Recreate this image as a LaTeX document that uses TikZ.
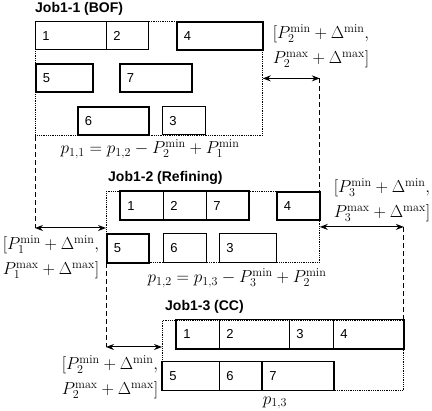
\RequirePackage{fix-cm}
\documentclass[tikz,border=0pt]{standalone}
\usepackage{fontspec}
\setsansfont{Liberation Sans}
\usetikzlibrary{arrows.meta}
\tikzset{
  frm/.style={draw, densely dotted, line width=0.8pt, anchor=north west, inner sep=0pt},
  jb/.style={draw, line width=0.9pt, anchor=north west, inner xsep=7pt, inner ysep=0pt,
             minimum height=28.5pt, align=left, font=\sffamily\fontsize{13}{15}\selectfont},
  thk/.style={line width=1.6pt},
  grp/.style={draw, line width=1.8pt},
  ttl/.style={font=\sffamily\bfseries\fontsize{14}{16}\selectfont, anchor=west, inner sep=0pt},
  mth/.style={font=\fontsize{17.3}{25}\selectfont, align=center, inner sep=0pt},
  arr/.style={{Stealth[length=8pt,width=6pt]}-{Stealth[length=8pt,width=6pt]}, line width=1pt},
  dsh/.style={line width=1pt, dash pattern=on 5pt off 3pt},
}
\newcommand\jbox[6][]{\node[jb,#1, text width={#5pt-14pt}] (#2) at (#3,#4) {#6};}
\begin{document}
\begin{tikzpicture}[x=1pt,y=-1pt]
\useasboundingbox (0,0) rectangle (432,411);
% ---------- Job1-1 ----------
\node[ttl] (tA) at (35,9) {Job1-1 (BOF)};
\node[frm, minimum width=227pt, minimum height=114pt] (fA) at (35,21) {};
\jbox{a1}{35}{21}{71}{1}
\jbox{a2}{106}{21}{42}{2}
\jbox[thk]{a4}{176}{21}{86}{4}
\jbox[thk]{a5}{35}{63}{57}{5}
\jbox[thk]{a7}{119}{63}{72}{7}
\jbox[thk]{a6}{77}{106}{71}{6}
\jbox{a3}{162}{106}{43}{3}
\node[mth] (eA) at (150,149) {$p_{1,1}=p_{1,2}-P_2^{\min}+P_1^{\min}$};
\node[mth] (lA) at (321,46) {$[P_2^{\min}+\Delta^{\min},$\\$P_2^{\max}+\Delta^{\max}]$};
% ---------- Job1-2 ----------
\node[ttl] (tB) at (108,178) {Job1-2 (Refining)};
\node[frm, minimum width=213pt, minimum height=71pt] (fB) at (106,191) {};
\jbox{b1}{120}{191}{43}{1}
\jbox{b2}{163}{191}{43}{2}
\jbox{b7}{206}{191}{42}{7}
\draw[grp] (b1.north west) rectangle (b7.south east);
\jbox[thk]{b4}{276}{191}{43}{4}
\jbox[thk]{b5}{106}{233.5}{42}{5}
\jbox{b6}{163}{233.5}{43}{6}
\jbox{b3}{219}{233.5}{57}{3}
\node[mth] (eB) at (237,278) {$p_{1,2}=p_{1,3}-P_3^{\min}+P_2^{\min}$};
\node[mth] (lB) at (51,257) {$[P_1^{\min}+\Delta^{\min},$\\$P_1^{\max}+\Delta^{\max}]$};
\node[mth] (lB2) at (382,200) {$[P_3^{\min}+\Delta^{\min},$\\$P_3^{\max}+\Delta^{\max}]$};
% ---------- Job1-3 ----------
\node[ttl] (tC) at (165,307) {Job1-3 (CC)};
\node[frm, minimum width=241pt, minimum height=70pt] (fC) at (162,320) {};
\jbox{c1}{176}{319.5}{43}{1}
\jbox{c2}{219}{319.5}{70}{2}
\jbox{c3}{289}{319.5}{44}{3}
\jbox{c4}{333}{319.5}{70}{4}
\draw[grp] (c1.north west) rectangle (c4.south east);
\jbox{c5}{162}{361.5}{57}{5}
\jbox{c6}{219}{361.5}{43}{6}
\jbox{c7}{262}{361.5}{71}{7}
\draw[grp] (c5.south west) -- (c5.north west) -- (c7.north east) -- (c7.south east);
\draw[grp] (c7.north west) -- (c7.south west);
\node[mth] (eC) at (275,403) {$p_{1,3}$};
\node[mth] (lC) at (110,377) {$[P_2^{\min}+\Delta^{\min},$\\$P_2^{\max}+\Delta^{\max}]$};
% ---------- connectors ----------
\coordinate (cA) at (fA.east -| fB.east);
\draw[arr] (fA.east) -- (cA);
\draw[dsh] (cA) -- (fB.north east);
\coordinate (cL1) at (35,228);
\draw[dsh] (fA.south west) -- (cL1);
\draw[arr] (cL1) -- (cL1 -| fB.west);
\coordinate (cB) at (fB.east -| fC.east);
\draw[arr] (fB.east) -- (cB);
\draw[dsh] (cB) -- (fC.north east);
\coordinate (cL2) at (106,347);
\draw[dsh] (fB.south west) -- (cL2);
\draw[arr] (cL2) -- (cL2 -| fC.west);
\end{tikzpicture}
\end{document}
